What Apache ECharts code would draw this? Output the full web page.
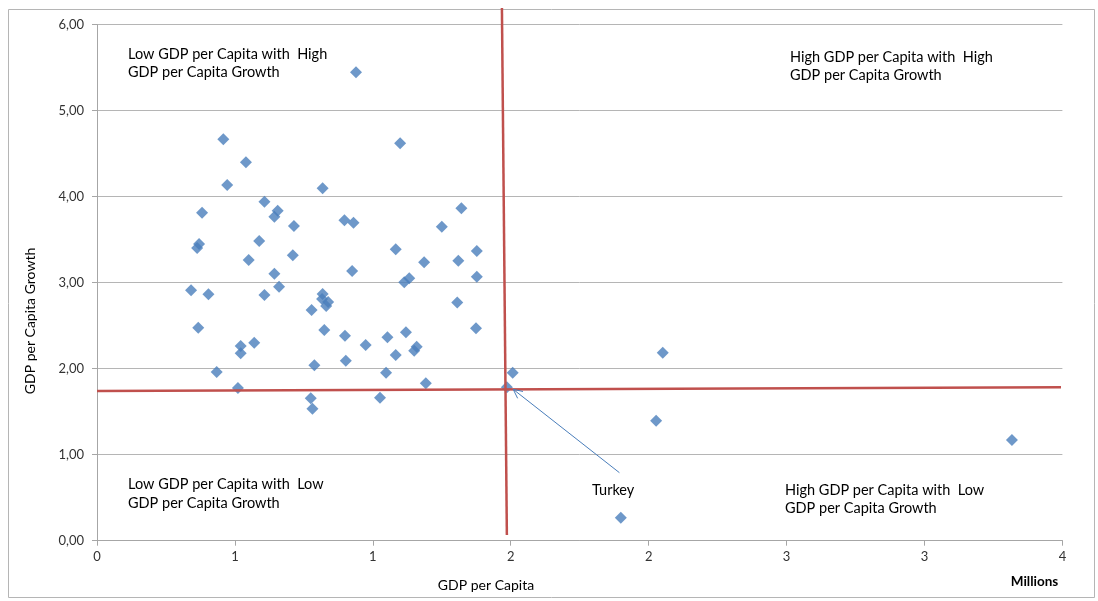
<!DOCTYPE html>
<html><head><meta charset="utf-8">
<script src="https://cdn.jsdelivr.net/npm/echarts@6/dist/echarts.min.js"></script>
<style>html,body{margin:0;padding:0;background:#fff}#c{width:1098px;height:601px}</style>
</head><body><div id="c"></div>
<script>
// GDP per capita (millions) and GDP per capita growth
const gdpPerCapita = [
  0.458,0.540,0.472,0.939,1.099,0.381,0.607,0.655,0.643,0.818,
  0.370,0.363,0.588,0.714,0.897,0.930,1.321,1.250,1.083,0.550,
  0.710,1.377,1.186,1.310,0.925,0.643,1.377,1.132,1.114,0.660,
  0.341,0.404,0.607,0.818,0.816,0.838,0.831,1.306,0.778,0.367,
  0.824,1.374,1.120,0.899,1.053,0.570,0.974,0.521,1.159,1.150,
  0.521,1.083,0.788,0.902,0.434,1.048,0.511,1.192,0.775,1.026,
  0.781,1.486,1.507,2.051,2.027,3.317,1.899
];
const gdpGrowth = [
  4.667,4.400,4.136,5.447,4.621,3.814,3.942,3.837,3.767,4.098,
  3.450,3.403,3.485,3.659,3.726,3.698,3.865,3.651,3.388,3.264,
  3.319,3.369,3.237,3.256,3.136,3.105,3.070,3.051,3.005,2.953,
  2.912,2.865,2.857,2.869,2.810,2.776,2.729,2.770,2.683,2.477,
  2.450,2.470,2.423,2.384,2.365,2.302,2.276,2.264,2.256,2.209,
  2.179,2.159,2.040,2.093,1.962,1.953,1.776,1.830,1.656,1.663,
  1.535,1.784,1.953,2.186,1.395,1.171,0.267
];
const xTickLabels = ['0','1','1','2','2','3','3','4'];
const yTickLabels = ['0,00','1,00','2,00','3,00','4,00','5,00','6,00'];
// Hand-drawn quadrant dividers and the Turkey arrow, in data units
const dividerVertical = [[1.468, 6.194], [1.486, 0.066]];
const dividerHorizontal = [[0, 1.741], [3.495, 1.784]];
const turkeyArrow = [[1.894, 0.791], [1.509, 1.760]];

const FONT = "Lato, 'Noto Sans', sans-serif";
const points = gdpPerCapita.map((x, i) => [x, gdpGrowth[i]]);

const chart = echarts.init(document.getElementById('c'));
chart.setOption({
  animation: false,
  backgroundColor: '#ffffff',
  grid: { left: 97, right: 35.6, top: 24.7, bottom: 60.3, containLabel: false },
  xAxis: {
    type: 'value', min: 0, max: 3.5, interval: 0.5,
    axisLine: { show: true, lineStyle: { color: '#a6a6a6', width: 1 } },
    axisTick: { show: true, length: 5, lineStyle: { color: '#a6a6a6' } },
    splitLine: { show: false },
    axisLabel: { margin: 10, color: '#333333', fontFamily: FONT, fontSize: 13,
      formatter: (v, i) => xTickLabels[i] }
  },
  yAxis: {
    type: 'value', min: 0, max: 6, interval: 1,
    axisLine: { show: true, lineStyle: { color: '#a6a6a6', width: 1 } },
    axisTick: { show: true, length: 5, lineStyle: { color: '#a6a6a6' } },
    splitLine: { show: true, lineStyle: { color: '#b5b5b5', width: 1 } },
    axisLabel: { margin: 13, color: '#333333', fontFamily: FONT, fontSize: 13,
      formatter: (v, i) => yTickLabels[i] }
  },
  series: [{
    type: 'scatter', data: points, symbol: 'diamond', symbolSize: 12,
    itemStyle: { color: '#4a7ebb' }, z: 3
  }]
});

const px = p => chart.convertToPixel({ gridIndex: 0 }, p);
const red = '#c0504d';
const v0 = px(dividerVertical[0]), v1 = px(dividerVertical[1]);
const h0 = px(dividerHorizontal[0]), h1 = px(dividerHorizontal[1]);
const a0 = px(turkeyArrow[0]), a1 = px(turkeyArrow[1]);
const ang = Math.atan2(a1[1] - a0[1], a1[0] - a0[0]);
const headLen = 10, spread = 0.45;
const head1 = [a1[0] - headLen * Math.cos(ang - spread), a1[1] - headLen * Math.sin(ang - spread)];
const head2 = [a1[0] - headLen * Math.cos(ang + spread), a1[1] - headLen * Math.sin(ang + spread)];

function txt(text, x, y, opts) {
  return Object.assign({ type: 'text', z: 10, style: Object.assign({
    text: text, x: x, y: y, fill: '#000000', font: '14.5px ' + FONT,
    textVerticalAlign: 'middle', textAlign: 'left' }, opts || {}) });
}

chart.setOption({
  graphic: [
    { type: 'rect', z: 0, shape: { x: 8.5, y: 9.5, width: 1086, height: 588 },
      style: { fill: 'none', stroke: '#b5b5b5', lineWidth: 1 } },
    { type: 'line', z: 20, shape: { x1: v0[0], y1: v0[1], x2: v1[0], y2: v1[1] },
      style: { stroke: red, lineWidth: 2.5 } },
    { type: 'line', z: 20, shape: { x1: h0[0], y1: h0[1], x2: h1[0], y2: h1[1] },
      style: { stroke: red, lineWidth: 2.5 } },
    { type: 'line', z: 21, shape: { x1: a0[0], y1: a0[1], x2: a1[0], y2: a1[1] },
      style: { stroke: '#4a7ebb', lineWidth: 1 } },
    { type: 'polyline', z: 21, shape: { points: [head1, a1, head2] },
      style: { stroke: '#4a7ebb', lineWidth: 1, fill: 'none' } },
    txt('Low GDP per Capita with  High', 128, 54),
    txt('GDP per Capita Growth', 128, 72.7),
    txt('High GDP per Capita with  High', 790, 57),
    txt('GDP per Capita Growth', 790, 75.5),
    txt('Low GDP per Capita with  Low', 128, 484),
    txt('GDP per Capita Growth', 128, 503),
    txt('High GDP per Capita with  Low', 785, 490),
    txt('GDP per Capita Growth', 785, 508.5),
    txt('Turkey', 592, 490),
    txt('GDP per Capita', 486, 585, { textAlign: 'center', font: '14px ' + FONT }),
    txt('Millions', 1034.5, 582, { textAlign: 'center', font: 'bold 13.5px ' + FONT }),
    { type: 'text', z: 10, x: 30, y: 321, rotation: Math.PI / 2,
      style: { text: 'GDP per Capita Growth', x: 0, y: 0, fill: '#000000',
        font: '14px ' + FONT, textAlign: 'center', textVerticalAlign: 'middle' } }
  ]
});
</script></body></html>
